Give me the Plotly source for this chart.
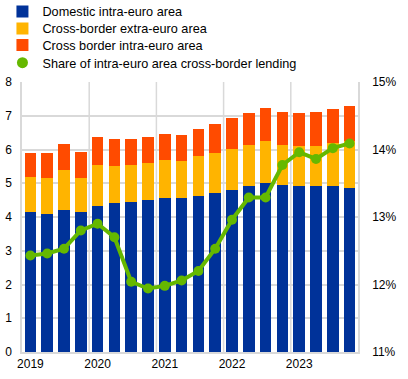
import plotly.graph_objects as go

quarters = ["2019Q1", "2019Q2", "2019Q3", "2019Q4",
            "2020Q1", "2020Q2", "2020Q3", "2020Q4",
            "2021Q1", "2021Q2", "2021Q3", "2021Q4",
            "2022Q1", "2022Q2", "2022Q3", "2022Q4",
            "2023Q1", "2023Q2", "2023Q3", "2023Q4"]
year_labels = ["2019", "2020", "2021", "2022", "2023"]

domestic = [4.14, 4.08, 4.20, 4.14, 4.32, 4.41, 4.44, 4.50, 4.56, 4.56,
            4.62, 4.70, 4.79, 4.91, 5.00, 4.94, 4.91, 4.91, 4.91, 4.85]
total_with_extra = [5.18, 5.15, 5.39, 5.15, 5.54, 5.51, 5.54, 5.60, 5.69, 5.66,
                    5.80, 5.89, 6.01, 6.13, 6.25, 6.13, 6.10, 6.10, 6.19, 6.25]
total_all = [5.89, 5.89, 6.16, 5.92, 6.37, 6.31, 6.31, 6.37, 6.46, 6.43,
             6.61, 6.76, 6.93, 7.08, 7.23, 7.11, 7.08, 7.11, 7.20, 7.29]
extra_euro = [round(b - a, 2) for a, b in zip(domestic, total_with_extra)]
intra_euro_cb = [round(b - a, 2) for a, b in zip(total_with_extra, total_all)]
share_pct = [12.43, 12.46, 12.53, 12.80, 12.90, 12.70, 12.04, 11.94, 11.98, 12.06,
             12.20, 12.53, 12.96, 13.29, 13.29, 13.77, 13.96, 13.86, 14.02, 14.09]

BLUE = "#003299"
ORANGE = "#FFB400"
RED = "#FF4B00"
GREEN = "#65B800"
GRID = "#D9D9D9"
FONT = "Liberation Sans, Arial, sans-serif"

x = list(range(len(quarters)))

fig = go.Figure()
fig.add_trace(go.Bar(x=x, y=domestic, name="Domestic intra-euro area",
                     marker=dict(color=BLUE, line=dict(width=0)), width=0.68,
                     legend="legend"))
fig.add_trace(go.Bar(x=x, y=extra_euro, name="Cross-border extra-euro area",
                     marker=dict(color=ORANGE, line=dict(width=0)), width=0.68,
                     legend="legend2"))
fig.add_trace(go.Bar(x=x, y=intra_euro_cb, name="Cross border intra-euro area",
                     marker=dict(color=RED, line=dict(width=0)), width=0.68,
                     legend="legend3"))
fig.add_trace(go.Scatter(x=x, y=share_pct, yaxis="y2", mode="lines+markers",
                         line=dict(color=GREEN, width=4),
                         marker=dict(color=GREEN, size=10),
                         showlegend=False, hoverinfo="y"))
fig.add_trace(go.Scatter(x=[None], y=[None], yaxis="y2", mode="markers",
                         marker=dict(color=GREEN, size=11),
                         name="Share of intra-euro area cross-border lending",
                         legend="legend4"))

for b in [3.5, 7.5, 11.5, 15.5]:
    fig.add_shape(type="line", xref="x", yref="paper", x0=b, x1=b, y0=0, y1=1,
                  line=dict(color=GRID, width=1.5), layer="below")


def leg(ypos):
    return dict(xref="container", yref="paper", x=0.006, y=ypos,
                xanchor="left", yanchor="top",
                font=dict(size=12.7, family=FONT, color="#000000"),
                bgcolor="rgba(0,0,0,0)", borderwidth=0,
                itemclick=False, itemdoubleclick=False)


fig.update_layout(
    width=408, height=379,
    margin=dict(l=22, r=50, t=82, b=27, autoexpand=False),
    barmode="stack",
    bargap=0.3,
    plot_bgcolor="white", paper_bgcolor="white",
    font=dict(family=FONT, size=12, color="#000000"),
    showlegend=True,
    legend=leg(1.316),
    legend2=leg(1.2528),
    legend3=leg(1.1914),
    legend4=leg(1.1264),
    xaxis=dict(range=[-0.5, 19.5], tickmode="array",
               tickvals=[0, 4, 8, 12, 16], ticktext=year_labels,
               showgrid=False, zeroline=False, showline=True,
               linecolor=GRID, linewidth=1.5, ticks="", tickangle=0,
               tickfont=dict(size=12)),
    yaxis=dict(range=[0, 8], dtick=1, showgrid=True, gridcolor=GRID,
               gridwidth=1.5, zeroline=False, showline=True,
               linecolor=GRID, linewidth=1.5, ticks="",
               ticklabelstandoff=6, tickfont=dict(size=12)),
    yaxis2=dict(range=[11, 15], dtick=1, overlaying="y", side="right",
                showgrid=False, zeroline=False, showline=True,
                linecolor=GRID, linewidth=1.5, ticks="",
                ticksuffix="%", ticklabelstandoff=10,
                tickfont=dict(size=12)),
)

fig.write_html("out.html", config={"displayModeBar": False},
               post_script="document.body.style.margin='0px';")
